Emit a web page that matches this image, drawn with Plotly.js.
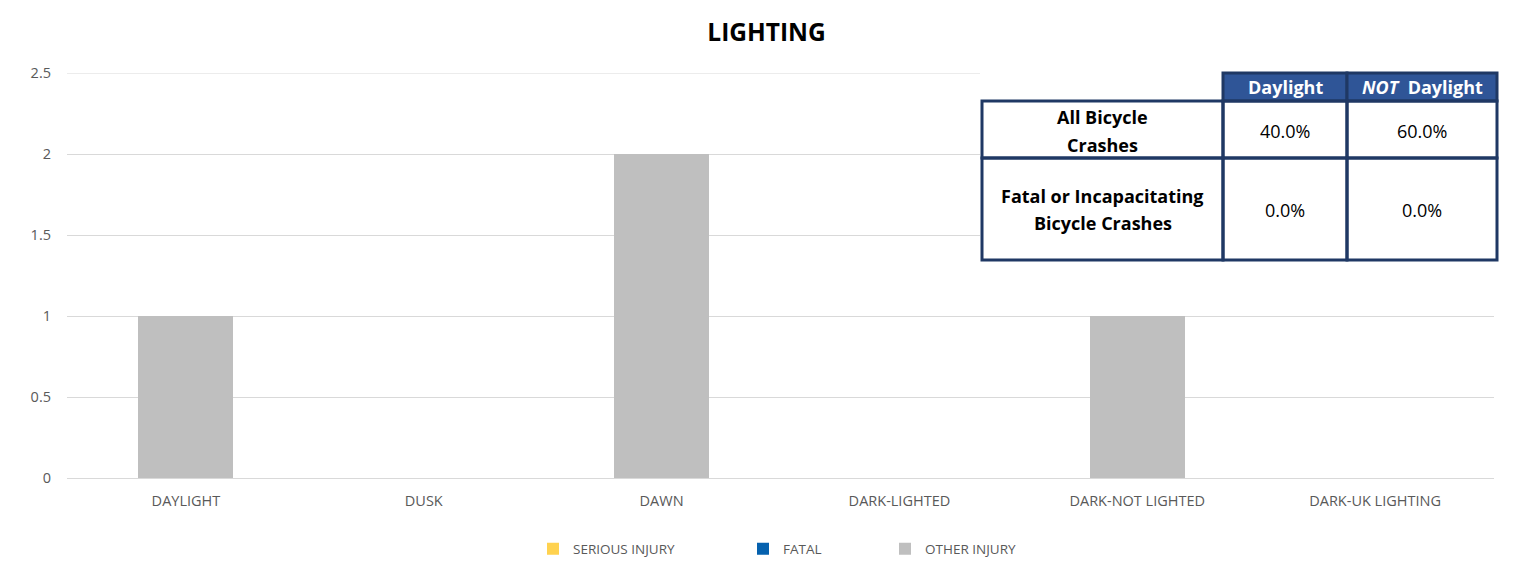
<!DOCTYPE html>
<html>
<head>
<meta charset="utf-8">
<script src="https://cdn.plot.ly/plotly-3.0.1.min.js"></script>
<style>html,body{margin:0;padding:0;background:#fff;}#chart{width:1533px;height:571px;}</style>
</head>
<body>
<div id="chart"></div>
<script>
var categories = ['DAYLIGHT', 'DUSK', 'DAWN', 'DARK-LIGHTED', 'DARK-NOT LIGHTED', 'DARK-UK LIGHTING'];
var seriousInjury = [0, 0, 0, 0, 0, 0];
var fatal = [0, 0, 0, 0, 0, 0];
var otherInjury = [1, 0, 2, 0, 1, 0];

var tableColumns = ['Daylight', '<i>NOT</i>  Daylight'];
var tableRows = ['All Bicycle<br>Crashes', 'Fatal or Incapacitating<br>Bicycle Crashes'];
var tableValues = [['40.0%', '60.0%'], ['0.0%', '0.0%']];

var FONT = 'Open Sans, Noto Sans, sans-serif';
var W = 1533, H = 571;
var L = 67, R = 1494, T = 73, B = 478;
function px(x) { return (x - L) / (R - L); }
function py(y) { return (B - y) / (B - T); }

var traces = [
  {type: 'bar', name: 'SERIOUS INJURY', x: categories, y: seriousInjury, marker: {color: '#FFD24F'}, legend: 'legend'},
  {type: 'bar', name: 'FATAL', x: categories, y: fatal, marker: {color: '#0561AE'}, legend: 'legend2'},
  {type: 'bar', name: 'OTHER INJURY', x: categories, y: otherInjury, marker: {color: '#BFBFBF'}, legend: 'legend3'}
];

var navy = '#1F3864', headBlue = '#2F5597';
var colX = [982, 1223, 1347, 1497];
var rowY = [101, 158, 260];
var headTop = 73;
var lineGap = 28;
var shapes = [];
var annotations = [];

// top gridline at 2.5
shapes.push({type: 'line', xref: 'paper', yref: 'y', x0: 0, x1: 1, y0: 2.5, y1: 2.5,
  line: {color: '#D9D9D9', width: 1}, layer: 'below'});
// white backdrop covering gridlines
shapes.push({type: 'rect', xref: 'paper', yref: 'paper', x0: px(980), x1: px(1499), y0: py(70), y1: py(262),
  fillcolor: '#ffffff', line: {width: 0}, layer: 'above'});
// header cells
for (var c = 0; c < tableColumns.length; c++) {
  shapes.push({type: 'rect', xref: 'paper', yref: 'paper', x0: px(colX[c + 1]), x1: px(colX[c + 2]),
    y0: py(headTop), y1: py(rowY[0]), fillcolor: headBlue, line: {color: navy, width: 3}, layer: 'above'});
  annotations.push({xref: 'paper', yref: 'paper', x: px((colX[c + 1] + colX[c + 2]) / 2), y: py((headTop + rowY[0]) / 2),
    text: '<b>' + tableColumns[c] + '</b>', showarrow: false, font: {family: FONT, size: 18, color: '#ffffff'},
    xanchor: 'center', yanchor: 'middle'});
}
// body cells
for (var r = 0; r < tableRows.length; r++) {
  for (var c2 = 0; c2 < 3; c2++) {
    shapes.push({type: 'rect', xref: 'paper', yref: 'paper', x0: px(colX[c2]), x1: px(colX[c2 + 1]),
      y0: py(rowY[r]), y1: py(rowY[r + 1]), fillcolor: 'rgba(0,0,0,0)', line: {color: navy, width: 3}, layer: 'above'});
  }
  var mid = (rowY[r] + rowY[r + 1]) / 2;
  var lines = tableRows[r].split('<br>');
  for (var k = 0; k < lines.length; k++) {
    var ly = mid + (r === 0 ? 1.5 : 0.5) + (k - (lines.length - 1) / 2) * lineGap;
    annotations.push({xref: 'paper', yref: 'paper', x: px((colX[0] + colX[1]) / 2), y: py(ly),
      text: '<b>' + lines[k] + '</b>', showarrow: false, font: {family: FONT, size: 18, color: '#000000'},
      xanchor: 'center', yanchor: 'middle', align: 'center'});
  }
  for (var v = 0; v < tableValues[r].length; v++) {
    annotations.push({xref: 'paper', yref: 'paper', x: px((colX[v + 1] + colX[v + 2]) / 2), y: py(mid + 1),
      text: tableValues[r][v], showarrow: false, font: {family: FONT, size: 18, color: '#000000'},
      xanchor: 'center', yanchor: 'middle'});
  }
}

var legFont = {family: FONT, size: 13.5, color: '#595959'};
function leg(xpix) {
  return {orientation: 'h', xref: 'paper', x: px(xpix), xanchor: 'left',
    yref: 'container', y: (H - 549) / H, yanchor: 'middle',
    font: legFont, bgcolor: 'rgba(0,0,0,0)', borderwidth: 0, itemwidth: 30};
}

var layout = {
  width: W, height: H,
  paper_bgcolor: '#ffffff', plot_bgcolor: '#ffffff',
  margin: {l: L, r: W - R, t: T, b: H - B, pad: 0},
  barmode: 'stack', bargap: 0.6,
  title: {text: '<b>LIGHTING</b>', x: 0.5, xref: 'container', xanchor: 'center', y: 1 - 32 / H, yanchor: 'middle',
    font: {family: FONT, size: 24.5, color: '#000000'}},
  xaxis: {type: 'category', showgrid: false, zeroline: false, showline: false, ticks: '',
    ticklabelstandoff: 12,
    tickfont: {family: FONT, size: 14.5, color: '#595959'}, automargin: false},
  yaxis: {range: [0, 2.5], dtick: 0.5, showgrid: true, gridcolor: '#D9D9D9', gridwidth: 1,
    zeroline: true, zerolinecolor: '#D9D9D9', zerolinewidth: 1, showline: false, ticks: '', ticklen: 0,
    ticklabelstandoff: 15,
    tickfont: {family: FONT, size: 14.5, color: '#595959'}, automargin: false},
  showlegend: true,
  legend: leg(533),
  legend2: leg(743),
  legend3: leg(885),
  shapes: shapes,
  annotations: annotations
};

var gd = document.getElementById('chart');
Plotly.newPlot(gd, traces, layout, {displayModeBar: false, staticPlot: true}).then(function () {
  // keep the plot area where the reference has it, whatever margin the legends reserve
  var tries = 0;
  function fix() {
    var s = gd._fullLayout._size;
    var bottom = s.t + s.h, top = s.t;
    var db = Math.round(bottom - B), dt = Math.round(top - T);
    if ((db !== 0 || dt !== 0) && tries < 4) {
      tries++;
      var m = gd.layout.margin;
      return Plotly.relayout(gd, {'margin.b': Math.max(0, m.b + db), 'margin.t': Math.max(0, m.t - dt)}).then(fix);
    }
  }
  return fix();
});
</script>
</body>
</html>
